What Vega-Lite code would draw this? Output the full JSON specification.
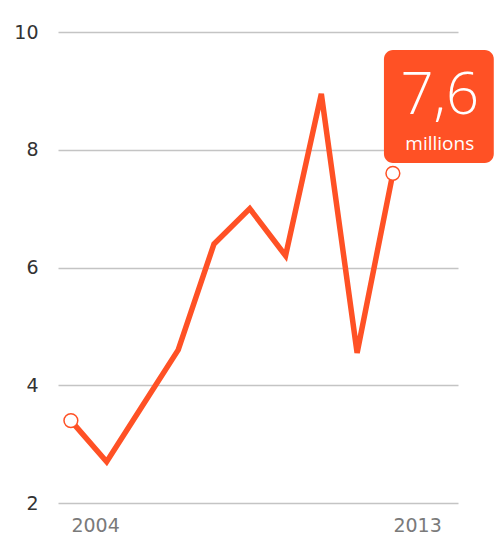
{
  "$schema": "https://vega.github.io/schema/vega-lite/v6.json",
  "autosize": "none",
  "width": 400,
  "height": 471,
  "padding": {"left": 58, "top": 32, "right": 36, "bottom": 35},
  "background": "white",
  "config": {"view": {"stroke": null}, "font": "DejaVu Sans"},
  "datasets": {
    "series": [
      {"year": 2004, "value": 3.4},
      {"year": 2005, "value": 2.7},
      {"year": 2006, "value": 3.65},
      {"year": 2007, "value": 4.6},
      {"year": 2008, "value": 6.4},
      {"year": 2009, "value": 7.0},
      {"year": 2010, "value": 6.2},
      {"year": 2011, "value": 8.95},
      {"year": 2012, "value": 4.55},
      {"year": 2013, "value": 7.6}
    ],
    "ends": [
      {"year": 2004, "value": 3.4},
      {"year": 2013, "value": 7.6}
    ],
    "callout": [
      {"x1": 2012.75, "x2": 2015.82, "y1": 7.775, "y2": 9.694, "tx": 2014.31, "big": "7,6", "bigY": 8.6, "small": "millions", "smallY": 7.99}
    ]
  },
  "layer": [
    {
      "data": {"name": "series"},
      "mark": {"type": "line", "color": "#FF5125", "strokeWidth": 5.5, "strokeJoin": "miter", "clip": false},
      "encoding": {
        "x": {
          "field": "year", "type": "quantitative",
          "scale": {"domain": [2003.64, 2014.82], "nice": false, "zero": false},
          "axis": {
            "values": [2004, 2013], "format": "d", "grid": false, "domain": false, "ticks": false,
            "labelFontSize": 19, "labelColor": "#7a7a7a", "labelPadding": 13,
            "labelAlign": "left", "labelDx": -4, "labelBaseline": "top", "labelFlush": false, "title": null
          }
        },
        "y": {
          "field": "value", "type": "quantitative",
          "scale": {"domain": [2, 10], "nice": false, "zero": false},
          "axis": {
            "values": [2, 4, 6, 8, 10], "format": "d", "grid": true, "gridColor": "#c4c4c4", "gridWidth": 1.5,
            "domain": false, "ticks": false, "labelFontSize": 19, "labelColor": "#333333",
            "labelPadding": 20, "labelBaseline": "middle", "title": null
          }
        }
      }
    },
    {
      "data": {"name": "ends"},
      "mark": {"type": "point", "shape": "circle", "filled": true, "fill": "white", "stroke": "#FF5125", "strokeWidth": 1.5, "size": 190, "opacity": 1, "clip": false},
      "encoding": {
        "x": {"field": "year", "type": "quantitative"},
        "y": {"field": "value", "type": "quantitative"}
      }
    },
    {
      "data": {"name": "callout"},
      "mark": {"type": "rect", "color": "#FF5125", "cornerRadius": 9, "clip": false},
      "encoding": {
        "x": {"field": "x1", "type": "quantitative"},
        "x2": {"field": "x2"},
        "y": {"field": "y1", "type": "quantitative"},
        "y2": {"field": "y2"}
      }
    },
    {
      "data": {"name": "callout"},
      "mark": {"type": "text", "color": "white", "font": "Open Sans", "fontWeight": 300, "fontSize": 58, "align": "center", "baseline": "alphabetic", "clip": false},
      "encoding": {
        "x": {"field": "tx", "type": "quantitative"},
        "y": {"field": "bigY", "type": "quantitative"},
        "text": {"field": "big"}
      }
    },
    {
      "data": {"name": "callout"},
      "mark": {"type": "text", "color": "white", "font": "Open Sans", "fontSize": 19, "align": "center", "baseline": "alphabetic", "clip": false},
      "encoding": {
        "x": {"field": "tx", "type": "quantitative"},
        "y": {"field": "smallY", "type": "quantitative"},
        "text": {"field": "small"}
      }
    }
  ]
}
